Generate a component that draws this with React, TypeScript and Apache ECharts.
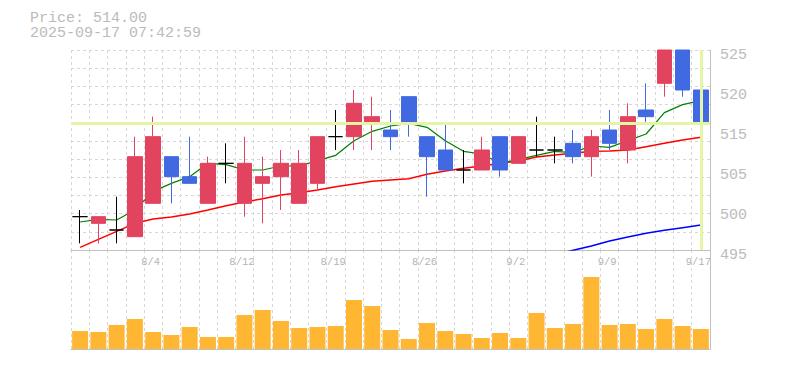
import React, { useEffect, useRef } from "react";
import * as echarts from "echarts";

const dates = [
  "7/29", "7/30", "7/31", "8/1", "8/4", "8/5", "8/6", "8/7", "8/8", "8/12",
  "8/13", "8/14", "8/15", "8/18", "8/19", "8/20", "8/21", "8/22", "8/25", "8/26",
  "8/27", "8/28", "8/29", "9/1", "9/2", "9/3", "9/4", "9/5", "9/8", "9/9",
  "9/10", "9/11", "9/12", "9/16", "9/17",
];

// [open, close, low, high]
const ohlc = [
  [500, 500, 496, 501], [499, 500, 496, 500], [498, 498, 496, 503], [497, 509, 497, 512],
  [502, 512, 502, 515], [509, 506, 502, 509], [506, 505, 505, 512], [502, 508, 502, 509],
  [508, 508, 505, 511], [502, 508, 500, 512], [505, 506, 499, 509], [506, 508, 501, 510],
  [502, 508, 502, 510], [505, 512, 504, 512], [512, 512, 510, 516], [512, 517, 510, 519],
  [514, 515, 510, 518], [513, 512, 510, 516], [518, 514, 512, 518], [512, 509, 503, 512],
  [510, 507, 507, 514], [507, 507, 505, 510], [507, 510, 507, 512], [512, 507, 506, 512],
  [508, 512, 508, 512], [510, 510, 509, 515], [510, 510, 508, 512], [511, 509, 508, 513],
  [509, 512, 506, 513], [513, 511, 510, 516], [510, 515, 508, 517], [516, 515, 514, 520],
  [520, 525, 518, 525], [525, 519, 518, 525], [519, 514, 512, 519],
];

const volumes = [
  18000, 17000, 24000, 30000, 17000, 14000, 22000, 12000, 12000, 34000,
  39000, 28000, 21000, 22000, 23000, 49000, 43000, 19000, 10000, 26000,
  18000, 15000, 11000, 16000, 11000, 36000, 21000, 25000, 72000, 24000,
  25000, 20000, 30000, 23000, 20000,
];

const ma5 = [
  499.2, 499.6, 499.5, 501.0, 503.8, 505.0, 506.0, 508.0, 507.8, 507.0,
  507.0, 507.6, 507.6, 508.4, 509.2, 511.4, 512.8, 513.6, 514.0, 513.4,
  511.4, 509.8, 509.4, 508.0, 508.6, 509.2, 509.8, 509.6, 510.6, 510.4,
  511.4, 512.4, 515.6, 516.8, 517.4,
];

const ma25 = [
  495.4, 496.6, 497.8, 499.0, 499.65, 499.95, 500.4, 501.0, 501.65, 502.2,
  502.7, 503.25, 503.6, 504.0, 504.5, 504.9, 505.3, 505.5, 505.7, 506.35,
  506.85, 507.25, 507.6, 508.0, 508.35, 508.95, 509.25, 509.5, 509.8, 509.85,
  510.0, 510.5, 511.0, 511.5, 511.9,
];

const ma75: (number | string)[] = [
  "-", "-", "-", "-", "-", "-", "-", "-", "-", "-",
  "-", "-", "-", "-", "-", "-", "-", "-", "-", "-",
  "-", "-", "-", "-", "-", 493.8, 494.3, 494.95, 495.6, 496.35,
  496.95, 497.5, 497.95, 498.35, 498.75,
];

const priceTickLabels = ["495", "500", "505", "515", "520", "525"];
const dateTickLabels = ["8/4", "8/12", "8/19", "8/26", "9/2", "9/9", "9/17"];
const currentPrice = 514;
const headerLines = ["Price: 514.00", "2025-09-17 07:42:59"];

const RED = "#e2435f";
const BLUE = "#4169e1";
const GRID_LINE = "#d8d8d8";
const BORDER = "#c0c0c0";
const TEXT = "#bbbbbb";
const FONT = '"Liberation Mono", "DejaVu Sans Mono", monospace';

export default function App() {
  const ref = useRef<HTMLDivElement>(null);

  useEffect(() => {
    document.body.style.margin = "0";
    if (!ref.current) return;
    const chart = echarts.init(ref.current, undefined, { renderer: "svg" });
    const dashed = { color: GRID_LINE, type: [3, 3] as any, width: 1 };
    chart.setOption({
      animation: false,
      backgroundColor: "#ffffff",
      grid: [
        { left: 71, right: 75, top: 50, height: 200, outerBoundsMode: "none" },
        { left: 71, right: 75, top: 250, height: 99, outerBoundsMode: "none" },
      ],
      graphic: [
        {
          type: "text",
          x: 30,
          y: 10.5,
          style: {
            text: headerLines.join("\n"),
            fill: TEXT,
            font: `15px ${FONT}`,
            lineHeight: 15,
            verticalAlign: "top",
            align: "left",
          },
        },
      ],
      xAxis: [
        {
          gridIndex: 0,
          type: "category",
          data: dates,
          boundaryGap: true,
          axisLine: { show: true, onZero: false, lineStyle: { color: BORDER, width: 1 } },
          axisTick: { show: false, interval: 0 },
          axisLabel: {
            interval: (_i: number, v: string) => dateTickLabels.includes(v),
            color: "#b4b4b4",
            fontFamily: FONT,
            fontSize: 10.5,
            margin: 6,
            padding: [0, 5, 0, 0],
          },
          splitLine: { show: true, interval: 0, lineStyle: dashed },
        },
        {
          gridIndex: 1,
          type: "category",
          data: dates,
          boundaryGap: true,
          axisLine: { show: true, onZero: false, lineStyle: { color: BORDER, width: 1 } },
          axisTick: { show: false },
          axisLabel: { show: false },
          splitLine: { show: true, interval: 0, lineStyle: dashed },
        },
      ],
      yAxis: [
        { gridIndex: 0, type: "value", min: 495, max: 525, show: false, splitLine: { show: false } },
        {
          gridIndex: 0,
          type: "value",
          min: 0,
          max: 5,
          interval: 1,
          position: "right",
          axisLine: { show: true, lineStyle: { color: BORDER, width: 1 } },
          axisTick: { show: false },
          splitLine: { show: false },
          axisLabel: {
            formatter: (v: number) => priceTickLabels[Math.round(v)] ?? "",
            color: TEXT,
            fontFamily: FONT,
            fontSize: 15,
            margin: 10,
            verticalAlign: "top",
            lineHeight: 10,
          },
        },
        {
          gridIndex: 0,
          type: "value",
          min: 0,
          max: 11,
          interval: 1,
          position: "left",
          axisLine: { show: false },
          axisTick: { show: false },
          axisLabel: { show: false },
          splitLine: { show: true, lineStyle: dashed },
        },
        {
          gridIndex: 1,
          type: "value",
          min: 0,
          max: 99000,
          position: "right",
          axisLine: { show: true, lineStyle: { color: BORDER, width: 1 } },
          axisTick: { show: false },
          axisLabel: { show: false },
          splitLine: { show: false },
        },
      ],
      series: [
        {
          type: "line",
          xAxisIndex: 0,
          yAxisIndex: 0,
          data: ma75.map(() => "-"),
          z: 1,
          silent: true,
          symbol: "none",
          markLine: {
            silent: true,
            symbol: ["none", "none"],
            label: { show: false },
            lineStyle: { color: "#e4f5a6", width: 3, type: "solid" },
            data: [{ yAxis: currentPrice }, { xAxis: dates[dates.length - 1] }],
          },
        },
        {
          type: "line",
          xAxisIndex: 0,
          yAxisIndex: 0,
          data: ma75,
          z: 2,
          symbol: "none",
          lineStyle: { color: "#0000ff", width: 1.5 },
        },
        {
          type: "line",
          xAxisIndex: 0,
          yAxisIndex: 0,
          data: ma25,
          z: 2,
          symbol: "none",
          lineStyle: { color: "#ff0000", width: 1.5 },
        },
        {
          type: "line",
          xAxisIndex: 0,
          yAxisIndex: 0,
          data: ma5,
          z: 2,
          symbol: "none",
          lineStyle: { color: "#008000", width: 1.2 },
        },
        {
          type: "candlestick",
          xAxisIndex: 0,
          yAxisIndex: 0,
          data: ohlc,
          barWidth: 15,
          z: 3,
          itemStyle: {
            color: RED,
            color0: BLUE,
            borderColor: RED,
            borderColor0: BLUE,
            borderColorDoji: "#000000",
            borderWidth: 1,
          },
        },
        {
          type: "bar",
          xAxisIndex: 1,
          yAxisIndex: 3,
          data: volumes,
          barWidth: 16,
          itemStyle: { color: "#ffb733" },
        },
      ],
    });
    return () => chart.dispose();
  }, []);

  return <div ref={ref} style={{ width: 785, height: 370 }} />;
}
